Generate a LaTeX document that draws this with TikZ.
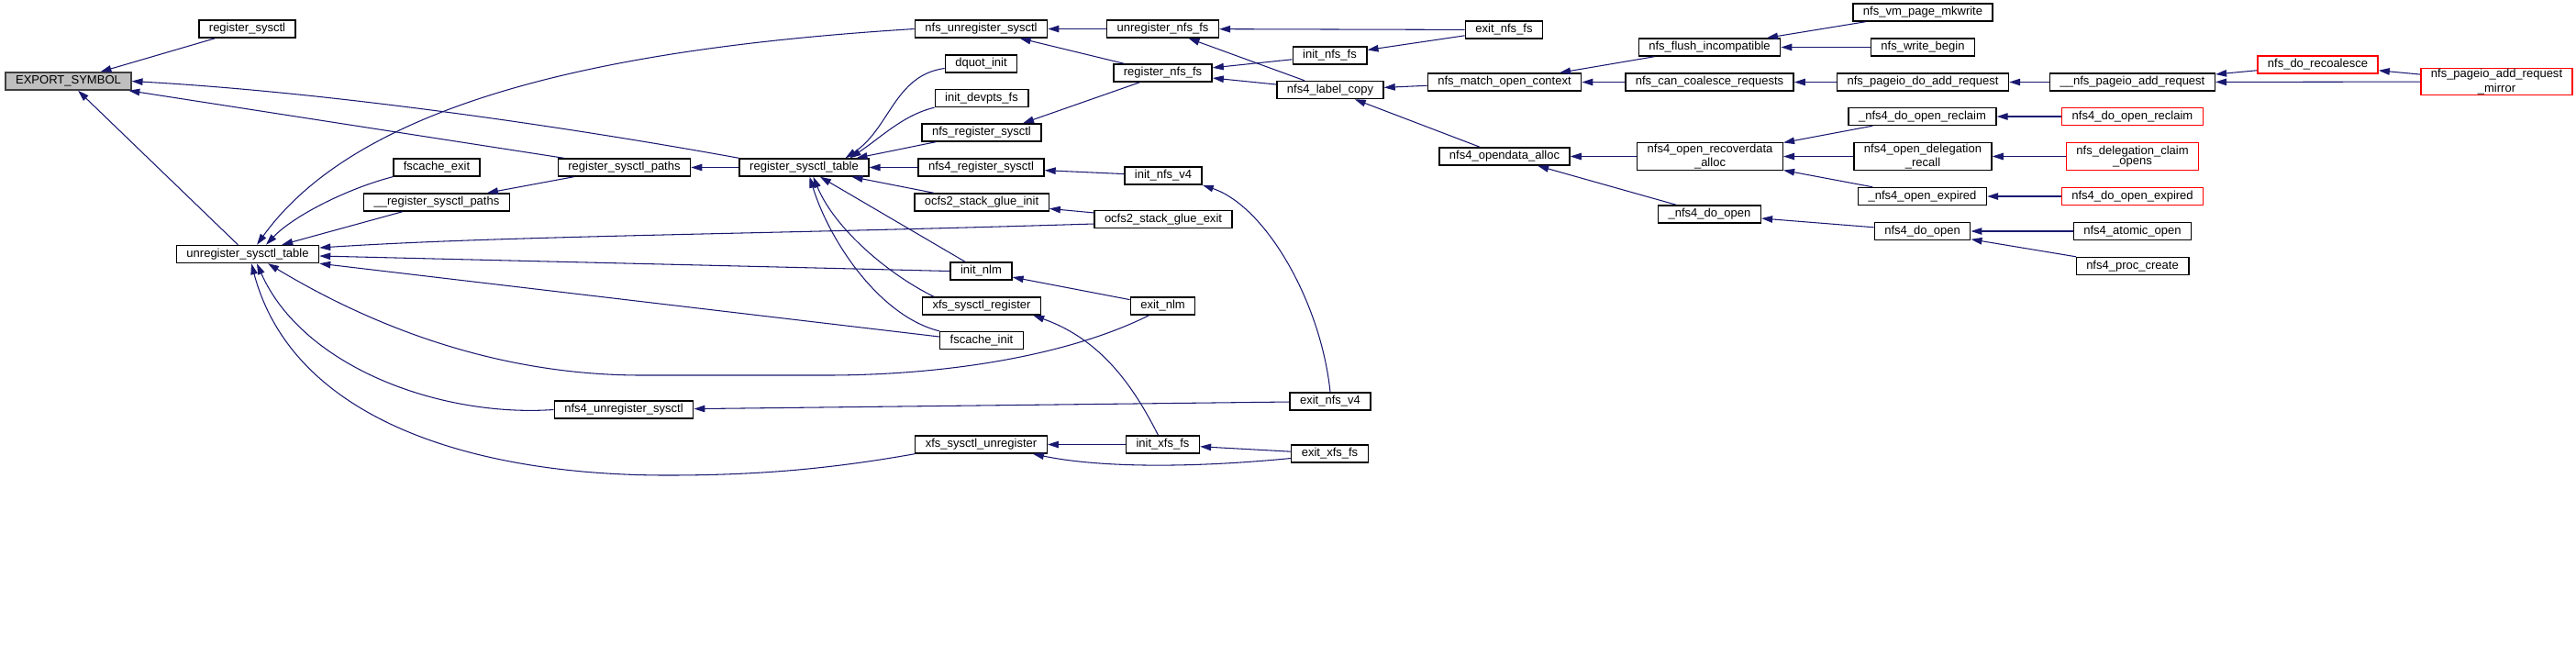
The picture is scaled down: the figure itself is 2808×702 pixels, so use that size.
\documentclass[tikz,border=0pt]{standalone}
\usepackage{fontspec}
\setmainfont{Liberation Sans}
\usetikzlibrary{arrows.meta}
\definecolor{edgeblue}{HTML}{191970}
\definecolor{symgray}{HTML}{BFBFBF}
\definecolor{cutred}{HTML}{FF0000}

\begin{document}
\begin{tikzpicture}[x=0.01cm,y=-0.01cm,
  fn/.style={draw=black,fill=white,line width=0.4pt,inner xsep=0.11cm,inner ysep=0pt,
    minimum height=0.19cm,text height=0.095cm,text depth=0.03cm,
    font=\fontsize{3.7}{3.13}\selectfont},
  fn2/.style={fn,align=center,minimum height=0.295cm,text height=,text depth=},
  cut/.style={draw=cutred},
  call/.style={edgeblue,line width=0.3pt,-{Triangle[length=0.12cm,width=0.075cm]}}]
  \useasboundingbox (0,0) rectangle (2808,702);

  % column 0-2
  \node[fn,fill=symgray,draw=black!75] (export) at (74.5,88.5) {EXPORT\_SYMBOL};
  \node[fn] (regsysctl) at (269.5,31.5) {register\_sysctl};
  \node[fn] (unregtable) at (270,277) {unregister\_sysctl\_table};
  \node[fn] (fscexit) at (476,182.5) {fscache\_exit};
  \node[fn] (uregpaths) at (476,220.5) {\_\_register\_sysctl\_paths};
  \node[fn] (regpaths) at (680.5,182.5) {register\_sysctl\_paths};
  \node[fn] (nfs4unreg) at (680,446.5) {nfs4\_unregister\_sysctl};
  \node[fn] (regtable) at (876.5,182.5) {register\_sysctl\_table};

  % column 3
  \node[fn] (nfsunreg) at (1069.5,31.5) {nfs\_unregister\_sysctl};
  \node[fn] (dquot) at (1069.5,69.5) {dquot\_init};
  \node[fn] (devpts) at (1070,107) {init\_devpts\_fs};
  \node[fn] (nfsreg) at (1070,144.5) {nfs\_register\_sysctl};
  \node[fn] (nfs4reg) at (1069.5,182.5) {nfs4\_register\_sysctl};
  \node[fn] (ocfsinit) at (1070,220.5) {ocfs2\_stack\_glue\_init};
  \node[fn] (initnlm) at (1069.5,295.5) {init\_nlm};
  \node[fn] (xfsreg) at (1070,333.5) {xfs\_sysctl\_register};
  \node[fn] (fscinit) at (1070,371) {fscache\_init};
  \node[fn] (xfsunreg) at (1069.5,484.5) {xfs\_sysctl\_unregister};

  % column 4
  \node[fn] (unregnfs) at (1267.5,31.5) {unregister\_nfs\_fs};
  \node[fn] (regnfs) at (1267.5,79.5) {register\_nfs\_fs};
  \node[fn] (initv4) at (1268,191.5) {init\_nfs\_v4};
  \node[fn] (ocfsexit) at (1268,239) {ocfs2\_stack\_glue\_exit};
  \node[fn] (exitnlm) at (1267.5,333.5) {exit\_nlm};
  \node[fn] (initxfs) at (1267.5,484.5) {init\_xfs\_fs};

  % column 5-6
  \node[fn] (initnfs) at (1449.5,60.5) {init\_nfs\_fs};
  \node[fn] (labelcopy) at (1450,98) {nfs4\_label\_copy};
  \node[fn] (exitv4) at (1450,437.5) {exit\_nfs\_v4};
  \node[fn] (exitxfs) at (1449.5,494.5) {exit\_xfs\_fs};
  \node[fn] (exitnfs) at (1639.5,32.5) {exit\_nfs\_fs};
  \node[fn] (matchctx) at (1640,89.5) {nfs\_match\_open\_context};
  \node[fn] (opendata) at (1640,170.5) {nfs4\_opendata\_alloc};

  % column 7-8
  \node[fn] (flushinc) at (1863.5,51.5) {nfs\_flush\_incompatible};
  \node[fn] (cancoal) at (1863.5,89.5) {nfs\_can\_coalesce\_requests};
  \node[fn2] (recover) at (1864,170.5) {nfs4\_open\_recoverdata\\\_alloc};
  \node[fn] (doopen4) at (1863.5,233.5) {\_nfs4\_do\_open};
  \node[fn] (mkwrite) at (2096,13.5) {nfs\_vm\_page\_mkwrite};
  \node[fn] (wbegin) at (2096,51.5) {nfs\_write\_begin};
  \node[fn] (doadd) at (2096,89.5) {nfs\_pageio\_do\_add\_request};
  \node[fn] (reclaim4) at (2095.5,127) {\_nfs4\_do\_open\_reclaim};
  \node[fn2] (delrecall) at (2096,170.5) {nfs4\_open\_delegation\\\_recall};
  \node[fn] (expired4) at (2095.5,214) {\_nfs4\_open\_expired};
  \node[fn] (doopen) at (2095.5,252) {nfs4\_do\_open};

  % column 9-11
  \node[fn] (addreq) at (2324.5,89.5) {\_\_nfs\_pageio\_add\_request};
  \node[fn,cut] (doreclaim) at (2324.5,127) {nfs4\_do\_open\_reclaim};
  \node[fn2,cut] (claimopens) at (2324.5,170.5) {nfs\_delegation\_claim\\\_opens};
  \node[fn,cut] (doexpired) at (2324.5,214) {nfs4\_do\_open\_expired};
  \node[fn] (atomic) at (2324.5,252) {nfs4\_atomic\_open};
  \node[fn] (proccreate) at (2324.5,290) {nfs4\_proc\_create};
  \node[fn,cut] (recoal) at (2526.5,70.5) {nfs\_do\_recoalesce};
  \node[fn2,cut] (mirror) at (2721.5,89) {nfs\_pageio\_add\_request\\\_mirror};

  % calls into EXPORT_SYMBOL
  \draw[call] (regsysctl) -- (export);
  \draw[call] (regtable.north west) .. controls (600,135) and (350,100) .. (export.east);
  \draw[call] (regpaths) -- (export);
  \draw[call] (unregtable) -- (export);

  % calls into unregister_sysctl_table
  \draw[call] (nfsunreg.west) .. controls (700,50) and (400,100) .. ([xshift=0.1cm]unregtable.north);
  \draw[call] (fscexit.south west) .. controls (380,205) and (320,235) .. ([xshift=0.2cm]unregtable.north);
  \draw[call] (uregpaths) -- (unregtable);
  \draw[call] ([yshift=-0.05cm]ocfsexit.west) .. controls (800,256) and (550,257) .. ([yshift=0.07cm]unregtable.east);
  \draw[call] (initnlm.west) -- ([yshift=-0.02cm]unregtable.east);
  \draw[call] ([yshift=0.04cm]fscinit.west) -- (unregtable.south east);
  \draw[call] ([xshift=-0.15cm]exitnlm.south) .. controls (1170,385) and (1040,409) .. (900,409) -- (700,409)
    .. controls (520,409) and (380,340) .. ([xshift=0.22cm]unregtable.south);
  \draw[call] (nfs4unreg.west) .. controls (480,455) and (330,400) .. ([xshift=0.1cm]unregtable.south);
  \draw[call] (xfsunreg.south west) .. controls (900,512) and (820,518) .. (727,518)
    .. controls (520,518) and (320,460) .. ([xshift=0.04cm]unregtable.south);

  % register_sysctl_table and its callers
  \draw[call] (regpaths) -- (uregpaths);
  \draw[call] (regtable) -- (regpaths);
  \draw[call] ([yshift=-0.05cm]dquot.west) .. controls (975,82) and (970,140) .. ([xshift=0.45cm]regtable.north);
  \draw[call] (devpts.south west) .. controls (985,125) and (960,150) .. ([xshift=0.5cm]regtable.north);
  \draw[call] ([xshift=-0.5cm]nfsreg.south) -- ([xshift=0.57cm]regtable.north);
  \draw[call] (nfs4reg) -- (regtable);
  \draw[call] (ocfsinit) -- (regtable);
  \draw[call] (initnlm) -- (regtable);
  \draw[call] ([xshift=-0.52cm]xfsreg.north) .. controls (970,300) and (910,250) .. ([xshift=0.1cm]regtable.south);
  \draw[call] (fscinit.north west) .. controls (960,345) and (905,265) .. ([xshift=0.06cm]regtable.south);

  % nfs / ocfs2 / nlm / xfs
  \draw[call] (unregnfs) -- (nfsunreg);
  \draw[call] (regnfs) -- (nfsunreg);
  \draw[call] ([xshift=-0.25cm]regnfs.south) -- ([xshift=0.45cm]nfsreg.north);
  \draw[call] (initv4) -- (nfs4reg);
  \draw[call] (ocfsexit) -- (ocfsinit);
  \draw[call] (exitnlm) -- (initnlm);
  \draw[call] ([xshift=-0.05cm]initxfs.north) .. controls (1235,420) and (1200,370) .. ([xshift=-0.09cm]xfsreg.south east);
  \draw[call] (initxfs) -- (xfsunreg);
  \draw[call] (exitv4) -- (nfs4unreg);
  \draw[call] (exitv4.north) .. controls (1440,330) and (1380,225) .. (initv4.south east);
  \draw[call] (exitxfs) -- (initxfs);
  \draw[call] ([yshift=-0.05cm]exitxfs.west) .. controls (1300,510) and (1200,510) .. ([xshift=-0.16cm]xfsunreg.south east);
  \draw[call] (exitnfs) -- (unregnfs);
  \draw[call] (exitnfs) -- (initnfs);
  \draw[call] (initnfs) -- (regnfs);
  \draw[call] (labelcopy) -- (regnfs);
  \draw[call] (labelcopy) -- (unregnfs);

  % nfs4_label_copy callers
  \draw[call] (matchctx) -- (labelcopy);
  \draw[call] (opendata) -- (labelcopy);
  \draw[call] (flushinc) -- (matchctx);
  \draw[call] (cancoal) -- (matchctx);
  \draw[call] (recover) -- (opendata);
  \draw[call] (doopen4) -- (opendata);
  \draw[call] (mkwrite) -- (flushinc);
  \draw[call] (wbegin) -- (flushinc);
  \draw[call] (doadd) -- (cancoal);
  \draw[call] (reclaim4) -- (recover);
  \draw[call] (delrecall) -- (recover);
  \draw[call] (expired4) -- (recover);
  \draw[call] (doopen) -- (doopen4);
  \draw[call] (addreq) -- (doadd);
  \draw[call] (doreclaim) -- (reclaim4);
  \draw[call] (claimopens) -- (delrecall);
  \draw[call] (doexpired) -- (expired4);
  \draw[call] (atomic) -- (doopen);
  \draw[call] (proccreate) -- (doopen);
  \draw[call] (recoal) -- (addreq);
  \draw[call] (mirror) -- (addreq);
  \draw[call] (mirror) -- (recoal);
\end{tikzpicture}
\end{document}
